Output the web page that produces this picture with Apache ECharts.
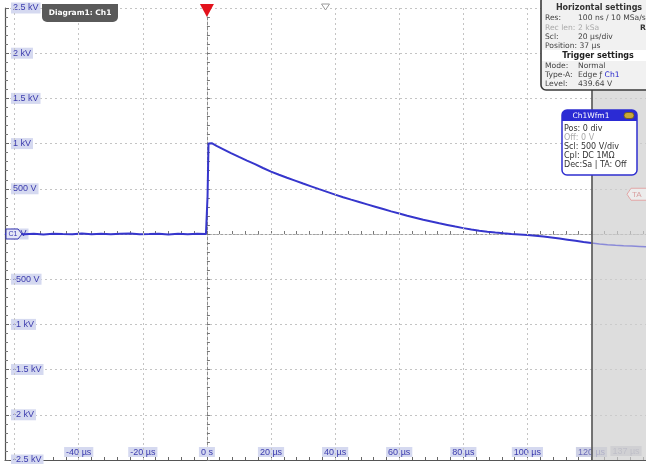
<!DOCTYPE html>
<html>
<head>
<meta charset="utf-8">
<script src="https://cdn.jsdelivr.net/npm/echarts@6/dist/echarts.min.js"></script>
<style>
html,body{margin:0;padding:0;background:#fff;}
#c{width:646px;height:464px;}
</style>
</head>
<body>
<div id="c"></div>
<script>
// ---- data ----
const timesUs = [-63,-60,-57,-54,-51,-48,-45,-42,-39,-36,-33,-30,-27,-24,-21,-18,-15,-12,-9,-6,-3,-0.3,
  0.2,0.5,1.5,3,5,7.5,10,12.5,15,17.5,20,22.5,25,27.5,30,32.5,35,37.5,40,42.5,45,47.5,50,52.5,55,57.5,
  60,62.5,65,67.5,70,72.5,75,77.5,80,82.5,85,87.5,90,92.5,95,97.5,100,102.5,105,107.5,110,112.5,115,117.5,
  120,122.5,125,127.5,130,132.5,135,137];
const voltsV = [0,6,-4,3,-5,4,0,-3,5,-2,3,-4,2,5,-3,0,4,-5,2,-2,3,0,
  420,1000,1005,975,940,895,853,812,773,730,690,655,622,590,558,527,496,466,436,407,380,354,328,302,276,250,
  226,202,180,158,138,118,100,82,65,50,37,26,16,8,1,-5,-11,-19,-28,-39,-51,-63,-75,-88,
  -100,-110,-118,-124,-129,-133,-137,-140];
const yTickLabels = {'-2500':'-2.5 kV','-2000':'-2 kV','-1500':'-1.5 kV','-1000':'-1 kV','-500':'-500 V','0':'0 V',
  '500':'500 V','1000':'1 kV','1500':'1.5 kV','2000':'2 kV','2500':'2.5 kV'};
const xLabelValues = [-40,-20,0,20,40,60,80,100,120,137];
const xGridValues = [-60,-40,-20,20,40,60,80,100];
const recordEndUs = 120;
const xMin = -63, xMax = 137;
const triggerTimeUs = 0;
const positionUs = 37;
const triggerLevelV = 439.64;

// minor tick positions (every 1/5 division)
const xMinorTicks = [];
for (let v = -60; v <= 136; v += 4) xMinorTicks.push(v);

const allPoints = timesUs.map((t, i) => [t, voltsV[i]]);
const inRecord = allPoints.filter(p => p[0] <= recordEndUs);
const pastRecord = allPoints.filter(p => p[0] >= recordEndUs);

const labelBg = '#d5d9f0', labelFg = '#3b3bad';
const FONT = 'Liberation Sans';

const chart = echarts.init(document.getElementById('c'), null, {renderer: 'canvas'});
const option = {
  animation: false,
  backgroundColor: '#ffffff',
  grid: {left: 5, right: 0, top: 8, bottom: 4, containLabel: false, outerBoundsMode: 'none'},
  xAxis: [{
    type: 'value', min: xMin, max: xMax, position: 'bottom',
    axisLine: {onZero: false, lineStyle: {color: '#555', width: 1.2}},
    axisTick: {show: true, inside: true, length: 3, customValues: xMinorTicks, lineStyle: {color: '#666'}},
    splitLine: {show: false},
    axisLabel: {
      show: true, inside: true, margin: 3, customValues: xLabelValues, hideOverlap: false,
      formatter: function (v) {
        const txt = v === 0 ? '0 s' : v + ' µs';
        if (v >= 130) return '{g|' + txt + '}{sp|}';
        if (v >= recordEndUs) return '{h|' + txt + '}';
        return '{n|' + txt + '}';
      },
      rich: {
        n: {backgroundColor: labelBg, color: labelFg, fontFamily: FONT, fontSize: 9, padding: [1, 2, 0, 2], lineHeight: 10},
        h: {backgroundColor: '#cfd2e6', color: '#6a6ab8', fontFamily: FONT, fontSize: 9, padding: [1, 2, 0, 2], lineHeight: 10},
        g: {backgroundColor: '#d4d4de', color: '#9a9ab8', fontFamily: FONT, fontSize: 9, padding: [1, 2, 0, 2], lineHeight: 10},
        sp: {width: 40}
      }
    }
  }, {
    type: 'value', min: xMin, max: xMax, position: 'bottom',
    axisLine: {show: true, onZero: true, onZeroAxisIndex: 0, lineStyle: {color: '#a0a0a0', type: [2, 2]}},
    axisTick: {show: true, inside: true, length: 3, customValues: xMinorTicks, lineStyle: {color: '#777'}},
    axisLabel: {show: false}, splitLine: {show: false}
  }],
  yAxis: [{
    type: 'value', min: -2500, max: 2500, interval: 500, position: 'left',
    axisLine: {show: true, onZero: false, lineStyle: {color: '#555', width: 1.2}},
    axisTick: {show: true, inside: true, length: 4, lineStyle: {color: '#666'}},
    minorTick: {show: true, splitNumber: 5, length: 3, lineStyle: {color: '#777'}},
    splitLine: {show: true, lineStyle: {color: '#c4c4c4', type: [2, 3], width: 1}},
    axisLabel: {
      inside: true, margin: 6, showMinLabel: true, showMaxLabel: true,
      formatter: v => yTickLabels[String(v)],
      backgroundColor: labelBg, color: labelFg, fontFamily: FONT, fontSize: 9, padding: [1, 2, 0, 2], lineHeight: 10
    }
  }, {
    type: 'value', min: -2500, max: 2500, interval: 500, position: 'left',
    axisLine: {show: true, onZero: true, onZeroAxisIndex: 0, lineStyle: {color: '#8a8a8a', type: [3, 2]}},
    axisTick: {show: true, inside: true, length: 3, lineStyle: {color: '#777'}},
    minorTick: {show: true, splitNumber: 5, length: 3, lineStyle: {color: '#777'}},
    axisLabel: {show: false}, splitLine: {show: false}
  }],
  series: [{
    type: 'line', xAxisIndex: 0, yAxisIndex: 0, data: inRecord,
    showSymbol: false, symbol: 'none', smooth: false,
    lineStyle: {width: 2, color: '#3636cc'}, itemStyle: {color: '#3636cc'},
    markArea: {
      silent: true,
      itemStyle: {color: '#cfcfcf', opacity: 0.7},
      data: [[{xAxis: recordEndUs}, {xAxis: xMax}]]
    },
    markLine: {
      silent: true, symbol: 'none', animation: false,
      label: {show: false},
      lineStyle: {color: '#c4c4c4', type: [2, 3], width: 1},
      data: xGridValues.map(v => ({xAxis: v})).concat([
        {xAxis: recordEndUs, lineStyle: {color: '#555', type: 'solid', width: 1.6}}
      ])
    }
  }, {
    type: 'line', xAxisIndex: 0, yAxisIndex: 0, data: pastRecord,
    showSymbol: false, symbol: 'none', smooth: false,
    lineStyle: {width: 1.5, color: '#8a8ad8'}, itemStyle: {color: '#8a8ad8'}
  }]
};
chart.setOption(option);

// ---- overlays positioned through the axes ----
const pTrig = chart.convertToPixel({xAxisIndex: 0, yAxisIndex: 0}, [triggerTimeUs, 0]);
const pPos = chart.convertToPixel({xAxisIndex: 0, yAxisIndex: 0}, [positionUs, 0]);
const pLvl = chart.convertToPixel({xAxisIndex: 0, yAxisIndex: 0}, [xMax, triggerLevelV]);
const gridTop = 8;
const txtA = {fontFamily: 'DejaVu Sans', fontSize: 7.6, fill: '#444'};
const txtB = {fontFamily: 'DejaVu Sans', fontSize: 8, fill: '#333'};
function T(x, y, s, extra) {
  return {type: 'text', x: x, y: y, z: 100, style: Object.assign({text: s, verticalAlign: 'middle'}, txtA, extra || {})};
}
function W(x, y, s, extra) {
  return {type: 'text', x: x, y: y, z: 102, style: Object.assign({text: s, verticalAlign: 'middle'}, txtB, extra || {})};
}
const graphics = [
  {type: 'polygon', z: 100, shape: {points: [[pTrig[0] - 7, gridTop - 4], [pTrig[0] + 7, gridTop - 4], [pTrig[0], gridTop + 9]]}, style: {fill: '#e3121c'}},
  {type: 'polygon', z: 100, shape: {points: [[pPos[0] - 4, gridTop - 4], [pPos[0] + 4, gridTop - 4], [pPos[0], gridTop + 2]]}, style: {fill: '#fff', stroke: '#999', lineWidth: 1}},
  {type: 'rect', z: 100, shape: {x: 42, y: 4, width: 76, height: 18, r: [0, 0, 5, 5]}, style: {fill: '#5a5a5a'}},
  {type: 'text', z: 101, x: 80, y: 13.5, style: {text: 'Diagram1: Ch1', fontFamily: 'DejaVu Sans', fontWeight: 'bold', fontSize: 7.5, fill: '#fff', align: 'center', verticalAlign: 'middle'}},
  {type: 'polygon', z: 100, shape: {points: [[6, pTrig[1] - 5], [18, pTrig[1] - 5], [22, pTrig[1]], [18, pTrig[1] + 5], [6, pTrig[1] + 5]]}, style: {fill: '#e4e6f6', stroke: '#3535b0', lineWidth: 1}},
  {type: 'text', z: 101, x: 13, y: pTrig[1] + 0.5, style: {text: 'C1', fontFamily: FONT, fontSize: 7, fill: '#3535b0', align: 'center', verticalAlign: 'middle'}},
  {type: 'polygon', z: 100, shape: {points: [[627, pLvl[1]], [631, pLvl[1] - 6], [647, pLvl[1] - 6], [647, pLvl[1] + 6], [631, pLvl[1] + 6]]}, style: {fill: '#ececec', stroke: '#e2a6a6', lineWidth: 1}},
  {type: 'text', z: 101, x: 632, y: pLvl[1] + 0.5, style: {text: 'TA', fontFamily: FONT, fontSize: 8, fill: '#d8a0a0', verticalAlign: 'middle'}},
  {type: 'rect', z: 100, shape: {x: 541, y: -4, width: 112, height: 94, r: 5}, style: {fill: '#f1f1f1', stroke: '#3a3a3a', lineWidth: 1.6}},
  {type: 'text', z: 101, x: 599, y: 8, style: {text: 'Horizontal settings', fontFamily: 'DejaVu Sans', fontWeight: 'bold', fontSize: 8, fill: '#333', align: 'center', verticalAlign: 'middle'}},
  T(545, 18.5, 'Res:'), T(578, 18.5, '100 ns / 10 MSa/s'),
  T(545, 28, 'Rec len:', {fill: '#aaa'}), T(578, 28, '2 kSa', {fill: '#aaa'}),
  T(640, 28, 'R', {fontWeight: 'bold', fill: '#333'}),
  T(545, 37.5, 'Scl:'), T(578, 37.5, '20 µs/div'),
  T(545, 46.5, 'Position: 37 µs'),
  {type: 'rect', z: 101, shape: {x: 542, y: 50, width: 104, height: 11}, style: {fill: '#ffffff'}},
  {type: 'text', z: 102, x: 598, y: 55.5, style: {text: 'Trigger settings', fontFamily: 'DejaVu Sans', fontWeight: 'bold', fontSize: 8, fill: '#222', align: 'center', verticalAlign: 'middle'}},
  T(545, 66.5, 'Mode:'), T(578, 66.5, 'Normal'),
  T(545, 75.5, 'Type-A:'),
  {type: 'text', z: 101, x: 578, y: 75.5, style: {text: 'Edge ƒ {b|Ch1}', rich: {b: {fill: '#2525cc', fontFamily: 'DejaVu Sans', fontSize: 7.6}}, fontFamily: 'DejaVu Sans', fontSize: 7.6, fill: '#444', verticalAlign: 'middle'}},
  T(545, 84, 'Level:'), T(578, 84, '439.64 V'),
  {type: 'rect', z: 100, shape: {x: 562, y: 110, width: 75, height: 65, r: 5}, style: {fill: '#fff', stroke: '#2f2fd0', lineWidth: 1.5}},
  {type: 'rect', z: 101, shape: {x: 562, y: 110, width: 75, height: 11, r: [5, 5, 0, 0]}, style: {fill: '#2b2bd4'}},
  {type: 'text', z: 102, x: 591, y: 116, style: {text: 'Ch1Wfm1', fontFamily: 'DejaVu Sans', fontSize: 7.5, fill: '#fff', align: 'center', verticalAlign: 'middle'}},
  {type: 'rect', z: 102, shape: {x: 624, y: 112.5, width: 10, height: 6, r: 3}, style: {fill: '#c9a93a', stroke: '#6e5a10', lineWidth: 0.8}},
  W(564, 128.5, 'Pos: 0 div'),
  W(564, 137.5, 'Off: 0 V', {fill: '#aaa'}),
  W(564, 146.5, 'Scl: 500 V/div'),
  W(564, 155.5, 'Cpl: DC 1MΩ'),
  W(564, 164.5, 'Dec:Sa | TA: Off')
];
chart.setOption({graphic: graphics});
</script>
</body>
</html>
